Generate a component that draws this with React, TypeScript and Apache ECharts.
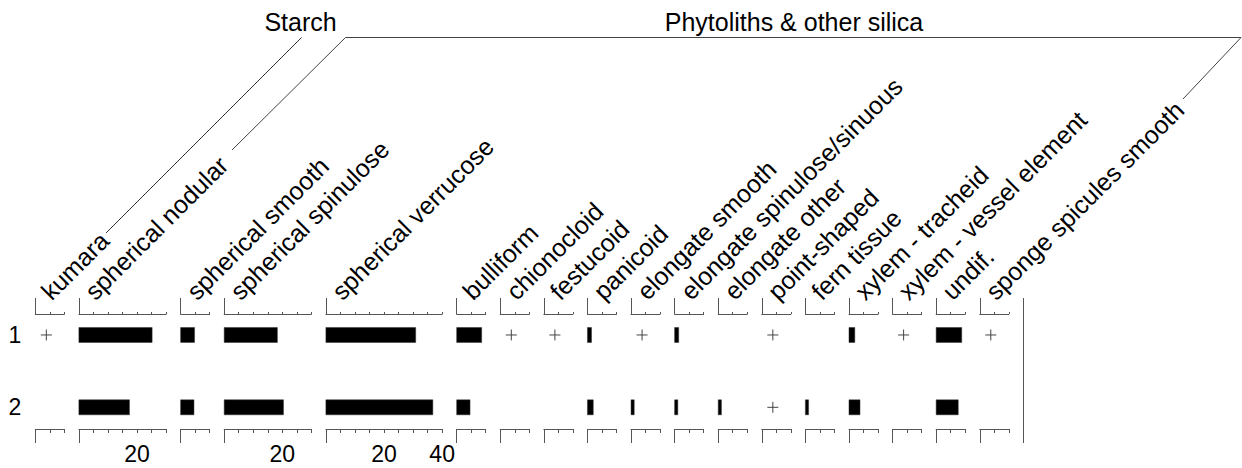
import React, { useEffect, useRef } from 'react';
import * as echarts from 'echarts';

// ---------- data ----------
const taxa = [
  'kumara',
  'spherical nodular',
  'spherical smooth',
  'spherical spinulose',
  'spherical verrucose',
  'bulliform',
  'chionocloid',
  'festucoid',
  'panicoid',
  'elongate smooth',
  'elongate spinulose/sinuous',
  'elongate other',
  'point-shaped',
  'fern tissue',
  'xylem - tracheid',
  'xylem - vessel element',
  'undif.',
  'sponge spicules smooth',
];
// axis maximum (%) of each taxon panel
const axisMax = [10, 30, 10, 30, 40, 10, 10, 10, 10, 10, 10, 10, 10, 10, 10, 10, 10, 10];
const sampleLabels = ['1', '2'];
const sampleDepths = [1, 2];
// values below 0.5 % are shown as "+" (present, rare)
const RARE = 0.2;
const sample1 = [RARE, 25.2, 4.8, 18.3, 30.9, 8.6, RARE, RARE, 1.4, RARE, 1.4, 0, RARE, 0, 2.0, RARE, 8.8, RARE];
const sample2 = [0, 17.4, 4.6, 20.4, 36.8, 4.6, 0, 0, 2.0, 1.1, 1.1, 1.1, RARE, 1.1, 3.8, 0, 7.6, 0];
const samples = [sample1, sample2];
const tickLabelsShown = [20, 40];
const groupNames = ['Starch', 'Phytoliths & other silica'];

// ---------- layout ----------
const W = 1242;
const H = 468;
const X0 = 35.3;
const PX = 2.906; // px per percent
const GAP = 5; // gap between panels, in percent units
const GRID_TOP = 314;
const GRID_H = 115;
const Y_MIN = 0.71;
const Y_MAX = 2.3;
const PLUS_POS = 3.8; // where the "+" marker sits, in % units
const BAR_H = 15;
const FONT = '"Liberation Sans", Arial, Helvetica, sans-serif';
const AX = '#555';

function renderItem(params: any, api: any) {
  const v = api.value(0);
  const d = api.value(1);
  if (v < 0.5) {
    const c = api.coord([PLUS_POS, d]);
    const s = 5.5;
    return {
      type: 'group',
      children: [
        { type: 'line', shape: { x1: c[0] - s, y1: c[1], x2: c[0] + s, y2: c[1] }, style: { stroke: '#444', lineWidth: 1 } },
        { type: 'line', shape: { x1: c[0], y1: c[1] - s, x2: c[0], y2: c[1] + s }, style: { stroke: '#444', lineWidth: 1 } },
      ],
    };
  }
  const p0 = api.coord([0, d]);
  const p1 = api.coord([v, d]);
  return {
    type: 'rect',
    shape: { x: p0[0], y: p0[1] - BAR_H / 2, width: p1[0] - p0[0], height: BAR_H },
    style: { fill: '#000', stroke: '#333', lineWidth: 0.5 },
  };
}

function buildOption() {
  const grids: any[] = [];
  const xAxes: any[] = [];
  const yAxes: any[] = [];
  const series: any[] = [];
  const graphics: any[] = [];
  let cum = 0;
  taxa.forEach((name, i) => {
    const left = X0 + PX * (cum + i * GAP);
    const width = PX * axisMax[i];
    cum += axisMax[i];
    grids.push({ left, top: GRID_TOP, width, height: GRID_H });
    const baseX = {
      type: 'value',
      gridIndex: i,
      min: 0,
      max: axisMax[i],
      interval: 5,
      splitLine: { show: false },
    };
    // bottom axis with labels
    xAxes.push({
      ...baseX,
      position: 'bottom',
      axisLine: { show: true, onZero: false, lineStyle: { color: AX, width: 1 } },
      axisTick: { show: true, length: 4, lineStyle: { color: AX, width: 1 } },
      axisLabel: {
        show: true,
        formatter: (v: number) => (tickLabelsShown.includes(v) ? String(v) : ''),
        fontSize: 23,
        fontFamily: FONT,
        color: '#000',
        margin: 25,
        verticalAlign: 'middle',
      },
    });
    // top axis
    xAxes.push({
      ...baseX,
      position: 'top',
      axisLine: { show: true, onZero: false, lineStyle: { color: AX, width: 1 } },
      axisTick: { show: true, length: 2, lineStyle: { color: AX, width: 1 } },
      axisLabel: { show: false },
    });
    // long zero tick, bottom
    xAxes.push({
      ...baseX,
      position: 'bottom',
      axisLine: { show: false, onZero: false },
      axisTick: { show: true, length: 14, customValues: [0], lineStyle: { color: AX, width: 1 } },
      axisLabel: { show: false },
    });
    // long zero tick, top
    xAxes.push({
      ...baseX,
      position: 'top',
      axisLine: { show: false, onZero: false },
      axisTick: { show: true, length: 16, customValues: [0], lineStyle: { color: AX, width: 1 } },
      axisLabel: { show: false },
    });
    yAxes.push({
      type: 'value',
      gridIndex: i,
      min: Y_MIN,
      max: Y_MAX,
      inverse: true,
      show: i === 0,
      axisLine: { show: false },
      axisTick: { show: false },
      splitLine: { show: false },
      axisLabel: {
        show: i === 0,
        customValues: sampleDepths,
        formatter: (v: number) => sampleLabels[sampleDepths.indexOf(v)] ?? '',
        fontSize: 23,
        fontFamily: FONT,
        color: '#000',
        margin: 14,
      },
    });
    series.push({
      type: 'custom',
      xAxisIndex: i * 4,
      yAxisIndex: i,
      renderItem,
      clip: false,
      data: sampleDepths
        .map((d, j) => [samples[j][i], d])
        .filter((p) => p[0] > 0),
    });
    graphics.push({
      type: 'text',
      x: left + 19,
      y: 304,
      rotation: Math.PI / 4,
      style: {
        text: name,
        fontSize: 25,
        fontFamily: FONT,
        fill: '#000',
        align: 'left',
        verticalAlign: 'bottom',
      },
    });
  });

  graphics.push({
    type: 'text',
    x: 300.5,
    y: 21.5,
    style: { text: groupNames[0], fontSize: 25, fontFamily: FONT, fill: '#000', align: 'center', verticalAlign: 'middle' },
  });
  graphics.push({
    type: 'text',
    x: 794,
    y: 21.5,
    style: { text: groupNames[1], fontSize: 25, fontFamily: FONT, fill: '#000', align: 'center', verticalAlign: 'middle' },
  });
  graphics.push({
    type: 'polyline',
    shape: { points: [[106, 233], [301.5, 37.5]] },
    style: { stroke: '#333', lineWidth: 1, fill: 'none' },
  });
  graphics.push({
    type: 'polyline',
    shape: { points: [[232, 150], [345.5, 37.5], [1241, 37.5], [1183, 99]] },
    style: { stroke: '#444', lineWidth: 1, fill: 'none' },
  });
  const rightX = Math.round(X0 + PX * (cum + taxa.length * GAP)) + 0.5;
  graphics.push({
    type: 'line',
    shape: { x1: rightX, y1: 298, x2: rightX, y2: 443 },
    style: { stroke: AX, lineWidth: 1 },
  });

  return {
    animation: false,
    backgroundColor: '#fff',
    grid: grids,
    xAxis: xAxes,
    yAxis: yAxes,
    series,
    graphic: graphics,
  };
}

export default function App() {
  const ref = useRef<HTMLDivElement>(null);
  useEffect(() => {
    if (!ref.current) return;
    const chart = echarts.init(ref.current, undefined, { renderer: 'svg' });
    chart.setOption(buildOption() as any);
    return () => chart.dispose();
  }, []);
  return (
    <div
      ref={ref}
      style={{ position: 'fixed', left: 0, top: 0, width: W, height: H, background: '#fff' }}
    />
  );
}
